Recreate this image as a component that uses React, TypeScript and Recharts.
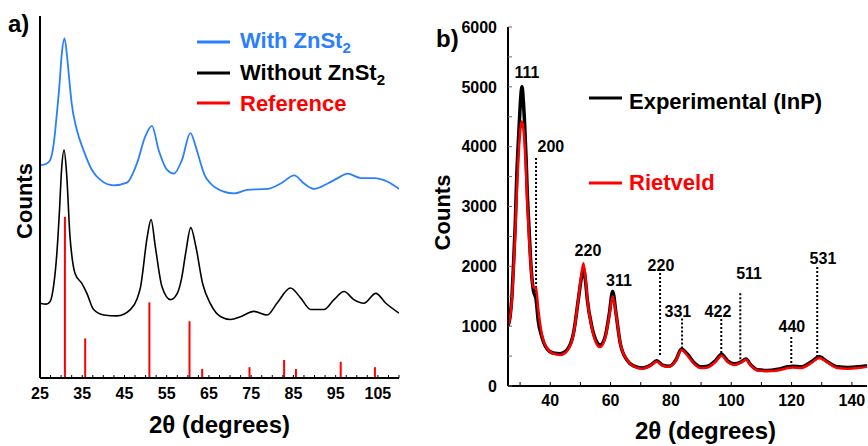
import React from "react";
import {
  LineChart,
  Line,
  XAxis,
  YAxis,
  ReferenceLine,
  ReferenceDot,
} from "recharts";

// a) powder patterns with / without zinc stearate (arbitrary units)
const withAngle = [25, 26.5, 27.4, 28.3, 29, 29.6, 30.1, 30.8, 31.5, 32, 32.5, 33.7, 35.3, 37.3, 39.3, 42.4, 45.6, 48, 49.9, 51.5, 53.1, 55.1, 56.7, 58.6, 60.6, 62, 63, 64, 65.4, 68.5, 71, 74.1, 78.8, 82, 85.2, 87.5, 89.9, 93.1, 95.5, 97.8, 101, 104.2, 107.3, 110];
const withCounts = [2.36, 2.38, 2.42, 2.62, 2.94, 3.25, 3.57, 3.77, 3.53, 3.28, 3.05, 2.76, 2.53, 2.31, 2.2, 2.14, 2.17, 2.39, 2.68, 2.8, 2.53, 2.31, 2.27, 2.42, 2.72, 2.55, 2.39, 2.25, 2.16, 2.07, 2.05, 2.09, 2.1, 2.16, 2.25, 2.16, 2.1, 2.16, 2.22, 2.27, 2.22, 2.22, 2.18, 2.1];

const withoutAngle = [25, 26.5, 27.4, 28.3, 29, 29.6, 30.1, 30.7, 31.3, 32.1, 32.7, 33.3, 34.9, 36.1, 37.7, 40.1, 43.2, 46.4, 48, 48.8, 50.4, 51.3, 52.3, 53.9, 55.9, 57.5, 58.5, 59.5, 60.7, 61.9, 63.5, 65.4, 67.8, 70.1, 72.5, 75.6, 78.8, 81.1, 84.3, 86.7, 89.1, 92.2, 94.6, 97, 99.3, 101.7, 104.5, 106.9, 110];
const withoutCounts = [0.83, 0.82, 0.85, 1.05, 1.39, 1.85, 2.31, 2.53, 2.27, 1.57, 1.3, 1.16, 1.05, 0.94, 0.76, 0.7, 0.69, 0.76, 0.88, 1.01, 1.57, 1.76, 1.46, 1.01, 0.87, 0.94, 1.1, 1.39, 1.67, 1.46, 1.05, 0.82, 0.68, 0.65, 0.68, 0.74, 0.7, 0.83, 1.0, 0.89, 0.76, 0.76, 0.87, 0.96, 0.87, 0.83, 0.94, 0.83, 0.72];

// reference stick pattern
const refAngle = [30.9, 35.7, 50.9, 60.4, 63.4, 74.6, 82.8, 85.6, 96.2, 104.3];
const refHeight = [1.79, 0.44, 0.84, 0.63, 0.1, 0.12, 0.2, 0.1, 0.18, 0.12];

const aLabelTicks = [25, 35, 45, 55, 65, 75, 85, 95, 105];

// b) InP experimental vs Rietveld fit
const bAngle = [26, 26.7, 27.3, 27.8, 28.4, 28.9, 29.4, 29.8, 30.25, 30.65, 31.1, 31.5, 32, 32.4, 33, 33.5, 34.4, 35.3, 36, 37.2, 38.8, 41, 43.3, 45.5, 47.7, 49.3, 50.3, 51, 51.7, 52.3, 53.8, 55.4, 56.5, 58.2, 59.6, 60.7, 61.8, 63.2, 65.4, 67.6, 70.6, 73.3, 75.3, 77.2, 79.4, 81.6, 83.5, 85.5, 87.7, 89.9, 92.1, 94.9, 96.8, 98.8, 101, 103.2, 104.9, 106.5, 108.7, 112, 115.4, 118.7, 120.4, 123.1, 126.4, 129.2, 132, 135.3, 138.6, 142, 145];
const experimental = [1000, 1160, 1500, 2000, 2700, 3500, 4050, 4450, 4850, 5000, 4750, 4390, 3800, 3220, 2600, 2100, 1600, 1450, 1100, 825, 630, 550, 540, 600, 880, 1440, 1800, 1970, 1750, 1440, 990, 740, 685, 825, 1215, 1580, 1215, 715, 435, 335, 300, 350, 420, 350, 330, 430, 620, 530, 390, 320, 330, 430, 530, 420, 370, 400, 450, 350, 270, 260, 280, 320, 330, 320, 400, 490, 400, 320, 310, 320, 340];
const rietveld = [1000, 1150, 1450, 1900, 2550, 3200, 3750, 4100, 4350, 4420, 4300, 4050, 3550, 3050, 2450, 2050, 1650, 1640, 1300, 870, 640, 540, 520, 580, 860, 1450, 1850, 2050, 1800, 1450, 970, 700, 650, 800, 1180, 1500, 1200, 720, 440, 330, 290, 340, 410, 340, 320, 420, 600, 510, 370, 300, 310, 410, 510, 400, 350, 390, 440, 340, 260, 250, 260, 300, 310, 300, 380, 470, 390, 300, 290, 300, 320];

const bLabelTicks = [40, 60, 80, 100, 120, 140];
const countTicks = [0, 1000, 2000, 3000, 4000, 5000, 6000];

// hkl annotations (label centre in data coordinates)
const hkl = ["111", "200", "220", "311", "220", "331", "422", "511", "440", "531"];
const hklAngle = [32.3, 40.2, 52.5, 62.8, 76.7, 82.3, 95.6, 105.9, 120.1, 130.4];
const hklCounts = [5250, 4010, 2260, 1770, 2010, 1250, 1250, 1890, 1000, 2140];

// dotted marker lines
const markAngle = [35.3, 76.4, 83.7, 96.7, 103.0, 119.9, 128.5];
const markTop = [3810, 1890, 1130, 1120, 1550, 820, 1990];
const markBottom = [1570, 500, 600, 490, 400, 320, 500];

const BLUE = "#2a7fff";
const RED = "#ff0000";
const FONT = '"Liberation Sans", Arial, Helvetica, sans-serif';

const tickStyle = { fill: "#000", fontSize: 16, fontWeight: 700 };
const frame = { stroke: "#000", strokeWidth: 2 };

const withData = withAngle.map((x, i) => ({ x, y: withCounts[i] }));
const withoutData = withoutAngle.map((x, i) => ({ x, y: withoutCounts[i] }));
const bData = bAngle.map((x, i) => ({ x, exp: experimental[i], riet: rietveld[i] }));

const aMinorTicks = Array.from({ length: 35 }, (_, i) => 25 + i * 2.5);
const bMinorTicks = Array.from({ length: 12 }, (_, i) => 30 + i * 10);
const bCountMinor = Array.from({ length: 13 }, (_, i) => i * 500);

const showIf = (list: number[]) => (v: number) => (list.includes(v) ? String(v) : "");

const PanelA = () => (
  <LineChart width={434} height={446} margin={{ top: 16, right: 35, left: 0, bottom: 0 }}>
    <XAxis
      dataKey="x"
      type="number"
      domain={[25, 110]}
      ticks={aMinorTicks}
      tickFormatter={showIf(aLabelTicks)}
      interval={0}
      allowDataOverflow
      height={68}
      axisLine={frame}
      tickLine={{ stroke: "#000" }}
      tickSize={-3}
      tickMargin={13}
      tick={tickStyle}
      label={{ value: "2θ (degrees)", position: "insideBottom", offset: 13, fill: "#000", fontSize: 24, fontWeight: 700 }}
    />
    <XAxis
      xAxisId="top"
      orientation="top"
      mirror
      dataKey="x"
      type="number"
      domain={[25, 110]}
      ticks={aLabelTicks}
      allowDataOverflow
      height={0}
      tick={false}
      tickSize={3}
      axisLine={{ stroke: "#999", strokeWidth: 1 }}
      tickLine={{ stroke: "#999" }}
    />
    <YAxis
      type="number"
      domain={[0, 4.02]}
      ticks={[1, 2, 3]}
      allowDataOverflow
      width={40}
      tick={false}
      tickSize={-4}
      tickLine={{ stroke: "#999" }}
      axisLine={frame}
      label={{ value: "Counts", angle: -90, position: "center", dx: 4, dy: 4, fill: "#000", fontSize: 22, fontWeight: 700 }}
    />
    <YAxis
      yAxisId="right"
      orientation="right"
      mirror
      type="number"
      domain={[0, 4.02]}
      ticks={[1, 2, 3]}
      allowDataOverflow
      width={0}
      tick={false}
      tickSize={4}
      axisLine={frame}
      tickLine={{ stroke: "#999" }}
    />
    {refAngle.map((x, i) => (
      <ReferenceLine
        key={`ref-${i}`}
        segment={[{ x, y: 0 }, { x, y: refHeight[i] }]}
        stroke={RED}
        strokeWidth={2}
      />
    ))}
    <Line data={withData} dataKey="y" type="monotone" stroke={BLUE} strokeWidth={1.8} dot={false} isAnimationActive={false} />
    <Line data={withoutData} dataKey="y" type="monotone" stroke="#000" strokeWidth={1.6} dot={false} isAnimationActive={false} />

    <text x={8} y={32} fontSize={24} fontWeight={700} fill="#000">a)</text>
    <line x1={197} x2={230} y1={42} y2={42} stroke={BLUE} strokeWidth={3} />
    <text x={240} y={48} fontSize={22} fontWeight={700} fill={BLUE}>
      With ZnSt<tspan dy={5} fontSize={15}>2</tspan>
    </text>
    <line x1={197} x2={230} y1={73} y2={73} stroke="#000" strokeWidth={3} />
    <text x={240} y={80} fontSize={22} fontWeight={700} fill="#000">
      Without ZnSt<tspan dy={5} fontSize={15}>2</tspan>
    </text>
    <line x1={197} x2={230} y1={103} y2={103} stroke={RED} strokeWidth={3} />
    <text x={240} y={111} fontSize={22} fontWeight={700} fill={RED}>Reference</text>
  </LineChart>
);

// panel b sits at page x=424 with a 10px left margin, so its plot starts at 508
const PanelB = () => (
  <LineChart width={444} height={446} data={bData} margin={{ top: 27, right: 1, left: 10, bottom: 0 }}>
    <XAxis
      dataKey="x"
      type="number"
      domain={[26, 145]}
      ticks={bMinorTicks}
      tickFormatter={showIf(bLabelTicks)}
      interval={0}
      allowDataOverflow
      height={60}
      axisLine={frame}
      tickLine={{ stroke: "#000" }}
      tickSize={-4}
      tickMargin={13}
      tick={tickStyle}
      label={{ value: "2θ (degrees)", position: "insideBottom", offset: 7, dx: 18, fill: "#000", fontSize: 24, fontWeight: 700 }}
    />
    <XAxis
      xAxisId="top"
      orientation="top"
      mirror
      dataKey="x"
      type="number"
      domain={[26, 145]}
      ticks={bLabelTicks}
      allowDataOverflow
      height={0}
      tick={false}
      tickSize={4}
      axisLine={frame}
      tickLine={{ stroke: "#666" }}
    />
    <YAxis
      type="number"
      domain={[0, 6000]}
      ticks={bCountMinor}
      tickFormatter={showIf(countTicks)}
      interval={0}
      allowDataOverflow
      width={74}
      tickSize={-4}
      tickMargin={15}
      tick={tickStyle}
      tickLine={{ stroke: "#666" }}
      axisLine={frame}
      label={{ value: "Counts", angle: -90, position: "center", dx: -29, dy: 6, fill: "#000", fontSize: 22, fontWeight: 700 }}
    />
    <YAxis
      yAxisId="right"
      orientation="right"
      mirror
      type="number"
      domain={[0, 6000]}
      ticks={countTicks}
      allowDataOverflow
      width={0}
      tick={false}
      tickSize={5}
      axisLine={frame}
      tickLine={{ stroke: "#666" }}
    />
    {markAngle.map((x, i) => (
      <ReferenceLine
        key={`mark-${i}`}
        segment={[{ x, y: markTop[i] }, { x, y: markBottom[i] }]}
        stroke="#000"
        strokeWidth={2}
        strokeDasharray="2 2"
      />
    ))}
    <Line dataKey="exp" type="monotone" stroke="#000" strokeWidth={3.5} dot={false} isAnimationActive={false} />
    <Line dataKey="riet" type="monotone" stroke={RED} strokeWidth={2.5} dot={false} isAnimationActive={false} />
    {hkl.map((h, i) => (
      <ReferenceDot
        key={`hkl-${i}`}
        x={hklAngle[i]}
        y={hklCounts[i]}
        r={0}
        fill="none"
        stroke="none"
        label={{ value: h, position: "center", fill: "#000", fontSize: 16, fontWeight: 700 }}
      />
    ))}

    <text x={12} y={47} fontSize={24} fontWeight={700} fill="#000">b)</text>
    <line x1={165} x2={198} y1={98} y2={98} stroke="#000" strokeWidth={3} />
    <text x={205} y={109} fontSize={22} fontWeight={700} fill="#000">Experimental (InP)</text>
    <line x1={165} x2={198} y1={183} y2={183} stroke={RED} strokeWidth={3} />
    <text x={205} y={190} fontSize={22} fontWeight={700} fill={RED}>Rietveld</text>
  </LineChart>
);

export default function App() {
  return (
    <div style={{ position: "absolute", left: 0, top: 0, width: 868, height: 446, background: "#fff", fontFamily: FONT }}>
      <div style={{ position: "absolute", left: 0, top: 0 }}>
        <PanelA />
      </div>
      <div style={{ position: "absolute", left: 424, top: 0 }}>
        <PanelB />
      </div>
    </div>
  );
}
